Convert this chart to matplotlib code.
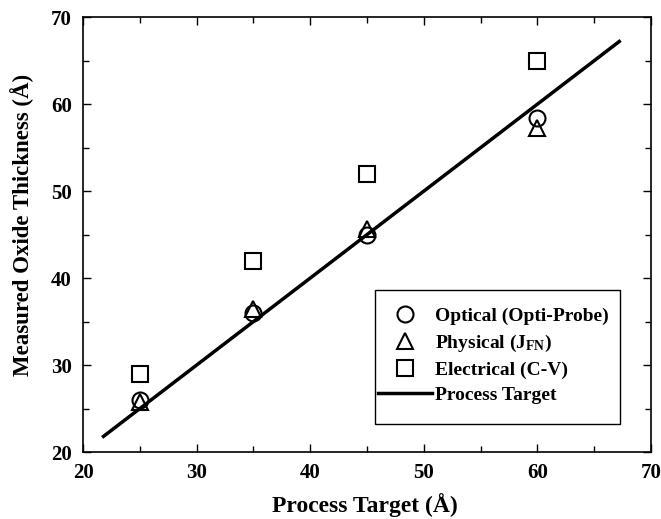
import numpy as np
import matplotlib
matplotlib.use("Agg")
from matplotlib import pyplot as plt
from matplotlib.ticker import MultipleLocator
from matplotlib.patches import Rectangle

plt.rcParams['font.family'] = ['Liberation Serif', 'DejaVu Serif']
plt.rcParams['font.weight'] = 'bold'
plt.rcParams['mathtext.fontset'] = 'custom'
plt.rcParams['mathtext.rm'] = 'Liberation Serif:bold'
plt.rcParams['mathtext.bf'] = 'Liberation Serif:bold'
plt.rcParams['mathtext.it'] = 'Liberation Serif:bold'

# data
target = [25, 35, 45, 60]
optical = [26.0, 36.0, 45.0, 58.4]
physical = [25.8, 36.5, 45.6, 57.2]
electrical = [29.0, 42.0, 52.0, 65.0]
line_x = [21.8, 67.2]

fig = plt.figure(figsize=(6.61, 5.19), dpi=100)
ax = fig.add_axes([0.1256, 0.129, 0.8594, 0.838])

ax.plot(target, optical, linestyle='none', marker='o', markersize=11.5,
        markerfacecolor='none', markeredgecolor='black', markeredgewidth=1.5,
        label='Optical (Opti-Probe)')
ax.plot(target, physical, linestyle='none', marker='^', markersize=12,
        markerfacecolor='none', markeredgecolor='black', markeredgewidth=1.5,
        label='Physical (J$_{\\mathrm{FN}}$)')
ax.plot(target, electrical, linestyle='none', marker='s', markersize=11,
        markerfacecolor='none', markeredgecolor='black', markeredgewidth=1.5,
        label='Electrical (C-V)')
ax.plot(line_x, line_x, color='black', linewidth=2.5, label='Process Target')

ax.set_xlim(20, 70)
ax.set_ylim(20, 70)
ax.xaxis.set_major_locator(MultipleLocator(10))
ax.yaxis.set_major_locator(MultipleLocator(10))
ax.xaxis.set_minor_locator(MultipleLocator(5))
ax.yaxis.set_minor_locator(MultipleLocator(5))
ax.tick_params(which='both', direction='in', top=True, right=True,
               labelsize=15, width=1)
ax.tick_params(which='major', length=6, pad=8)
ax.tick_params(which='minor', length=4)
for s in ax.spines.values():
    s.set_linewidth(1.2)

ax.set_xlabel('Process Target (Å)', fontsize=17, fontweight='bold')
ax.set_ylabel('Measured Oxide Thickness (Å)', fontsize=16.5, fontweight='bold')
ax.xaxis.set_label_coords(0.496, -0.122)
ax.xaxis.label.set_verticalalignment('center')
ax.yaxis.set_label_coords(-0.107, 0.522)
ax.yaxis.label.set_verticalalignment('center')

# legend: frame drawn separately so the box can be taller than its contents
leg = ax.legend(loc='center', bbox_to_anchor=(0.722, 0.222), fontsize=14,
                frameon=False, handlelength=2.8, borderpad=0,
                labelspacing=0.38, handletextpad=0.15, borderaxespad=0)
ax.add_patch(Rectangle((0.514, 0.064), 0.431, 0.308, transform=ax.transAxes,
                       fill=False, edgecolor='black', linewidth=1.0, zorder=4))

fig.savefig('out.png', dpi=100)
